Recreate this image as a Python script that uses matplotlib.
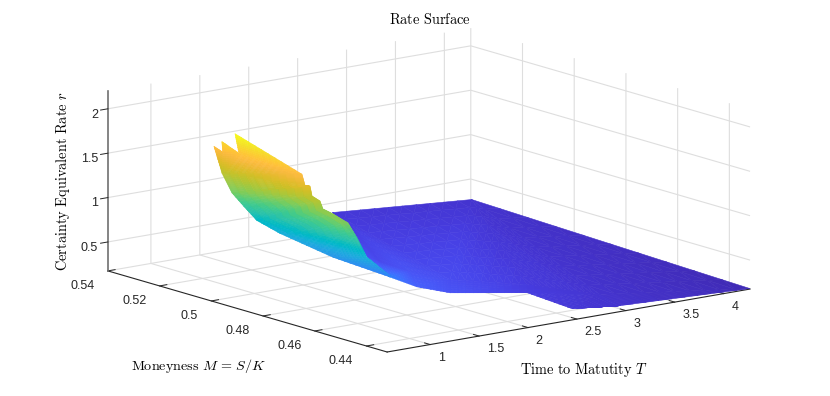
import numpy as np
import matplotlib
matplotlib.use("Agg")
import matplotlib.pyplot as plt
from matplotlib.colors import LinearSegmentedColormap

plt.rcParams['mathtext.fontset'] = 'cm'
plt.rcParams['font.family'] = ['Liberation Sans', 'DejaVu Sans']

parula_rgb = [
 (.2422,.1504,.6603),(.2504,.1650,.7076),(.2578,.1818,.7511),(.2647,.1978,.7952),(.2706,.2147,.8364),
 (.2751,.2342,.8710),(.2783,.2559,.8991),(.2803,.2782,.9221),(.2813,.3006,.9414),(.2810,.3228,.9579),
 (.2795,.3447,.9717),(.2760,.3667,.9829),(.2699,.3892,.9906),(.2602,.4123,.9952),(.2440,.4358,.9988),
 (.2206,.4603,.9973),(.1963,.4847,.9892),(.1834,.5074,.9798),(.1786,.5289,.9682),(.1764,.5499,.9520),
 (.1687,.5703,.9359),(.1540,.5902,.9218),(.1460,.6091,.9079),(.1380,.6276,.8973),(.1248,.6459,.8883),
 (.1113,.6635,.8763),(.0952,.6798,.8598),(.0689,.6948,.8394),(.0297,.7082,.8163),(.0036,.7203,.7917),
 (.0067,.7312,.7660),(.0433,.7411,.7394),(.0964,.7500,.7120),(.1408,.7584,.6842),(.1717,.7670,.6554),
 (.1938,.7758,.6251),(.2161,.7843,.5923),(.2470,.7918,.5567),(.2906,.7973,.5188),(.3406,.8008,.4789),
 (.3909,.8029,.4354),(.4456,.8024,.3909),(.5044,.7993,.3480),(.5616,.7942,.3045),(.6174,.7876,.2612),
 (.6720,.7793,.2227),(.7242,.7698,.1910),(.7738,.7598,.1646),(.8203,.7498,.1535),(.8634,.7406,.1596),
 (.9035,.7330,.1774),(.9393,.7288,.2100),(.9728,.7298,.2394),(.9956,.7434,.2371),(.9970,.7659,.2199),
 (.9952,.7893,.2028),(.9892,.8136,.1885),(.9786,.8386,.1766),(.9676,.8639,.1643),(.9610,.8890,.1537),
 (.9597,.9135,.1423),(.9628,.9373,.1265),(.9691,.9606,.1064),(.9769,.9839,.0805)]
parula = LinearSegmentedColormap.from_list('parula', parula_rgb)

# spike tips at the short-maturity end
tip_T = [1.176, 1.161, 1.157, 1.162, 1.119]
tip_M = [.5223, .5183, .5185, .5121, .5120]
tip_R = [1.61, 1.58, 1.70, 1.62, 1.85]
# near edge of the steep sheet
near_T = [1.029, .930, 1.000, 1.068, 1.087, 1.175, 1.300]
near_M = [.5136, .5060, .5036, .5016, .4934, .4762, .4589]
near_R = [1.41, 1.27, 1.11, .97, .89, .75, .65]
# jagged far edge of the steep sheet
far_T = [1.162, 1.097, 1.107, 1.059, 1.039, 1.001, .975, .932, .976, 1.076, 1.262]
far_M = [.4877, .4841, .4825, .4799, .4761, .4735, .4686, .4612, .4594, .4593, .4574]
far_R = [1.59, 1.51, 1.51, 1.43, 1.41, 1.35, 1.34, 1.31, 1.15, .91, .68]
# flat part: back edge, starting on the fold
back_T = [2.838, 2.980, 4.195, 4.131]
back_M = [.5334, .5446, .5368, .4268]
back_R = [.35, .33, .31, .25]
# flat part: interior line
mid_T = [2.010, 2.042, 1.914, 2.054, 2.595, 2.921, 2.806]
mid_M = [.4946, .4908, .4744, .4642, .4549, .4390, .4269]
mid_R = [.44, .41, .46, .43, .35, .31, .31]
# flat part: front edge
front_T = [2.010, 1.300, 1.510, 1.708, 2.399, 2.393, 2.806]
front_M = [.4946, .4589, .4564, .4511, .4474, .4298, .4269]
front_R = [.44, .65, .52, .46, .36, .33, .31]

T_ticks = [1, 1.5, 2, 2.5, 3, 3.5, 4]
T_labels = ['1', '1.5', '2', '2.5', '3', '3.5', '4']
M_ticks = [.44, .46, .48, .5, .52, .54]
M_labels = ['0.44', '0.46', '0.48', '0.5', '0.52', '0.54']
R_ticks = [.5, 1, 1.5, 2]
R_labels = ['0.5', '1', '1.5', '2']


def zipper(a, b):
    """Connectivity between two index chains."""
    tris, i, j = [], 0, 0
    while i < len(a) - 1 or j < len(b) - 1:
        fa = (i + 1) / (len(a) - 1)
        fb = (j + 1) / (len(b) - 1)
        if j == len(b) - 1 or (i < len(a) - 1 and fa <= fb):
            tris.append((a[i], b[j], a[i + 1])); i += 1
        else:
            tris.append((a[i], b[j], b[j + 1])); j += 1
    return tris


def draw_sheet(ax, T, M, R, tris, n):
    """Gouraud-style shading: split each triangle into a fine lattice."""
    P = np.column_stack([T, M, R])
    pts, out = [], []
    for a, b, c in tris:
        index = {}
        for i in range(n + 1):
            for j in range(n + 1 - i):
                k = n - i - j
                index[i, j] = len(pts)
                pts.append((i * P[a] + j * P[b] + k * P[c]) / n)
        for i in range(n):
            for j in range(n - i):
                out.append((index[i, j], index[i + 1, j], index[i, j + 1]))
                if i + j < n - 1:
                    out.append((index[i + 1, j], index[i + 1, j + 1], index[i, j + 1]))
    pts = np.array(pts)
    surf = ax.plot_trisurf(pts[:, 0], pts[:, 1], pts[:, 2], triangles=np.array(out), cmap=parula,
                           vmin=.22, vmax=1.85, linewidth=0, antialiased=True, shade=False)
    surf.set_edgecolor('face')
    surf.set_linewidth(.4)
    return surf


fig = plt.figure(figsize=(8.30, 3.96), dpi=100)
S = 700
ax = fig.add_axes([69.5 / 830, -153.5 / 396, S / 830, S / 396], projection='3d', proj_type='ortho')
ax.patch.set_visible(False)
ax.set_box_aspect((459, 457, 184.7), zoom=653.4 / S)
ax.view_init(elev=12.97, azim=-127.7)

# steep sheet
nt = len(tip_T); nn = len(near_T); nf = len(far_T)
idx_near = list(range(nt, nt + nn))
idx_far = list(range(nt + nn, nt + nn + nf))
L1, R1 = idx_near[0], idx_far[0]
steep_tris = [(0, 1, L1), (1, 2, 3), (1, 3, L1), (3, 4, R1), (3, R1, L1)] + zipper(idx_near, idx_far)
draw_sheet(ax, tip_T + near_T + far_T, tip_M + near_M + far_M, tip_R + near_R + far_R, steep_tris, 10)

# flat sheet
nb = len(back_T); nm = len(mid_T); nfr = len(front_T)
idx_back = list(range(nb))
idx_mid = list(range(nb, nb + nm))
idx_front = list(range(nb + nm, nb + nm + nfr))
flat_tris = zipper(idx_back, idx_mid) + zipper(idx_mid, idx_front)
draw_sheet(ax, back_T + mid_T + front_T, back_M + mid_M + front_M, back_R + mid_R + front_R, flat_tris, 10)

ax.set_xlim(.56, 4.27, view_margin=0)
ax.set_ylim(.432, .54, view_margin=0)
ax.set_zlim(.174, 2.2, view_margin=0)
ax.set_xticks(T_ticks, T_labels, ha='left')
ax.set_yticks(M_ticks, M_labels, ha='right')
ax.set_zticks(R_ticks, R_labels, ha='right')
ax.tick_params(axis='x', labelsize=9, pad=-.7, colors='#262626')
ax.tick_params(axis='y', labelsize=9, pad=1.5, colors='#262626')
ax.tick_params(axis='z', labelsize=9, pad=-4, colors='#262626')

for axis in (ax.xaxis, ax.yaxis, ax.zaxis):
    axis.set_pane_color((1, 1, 1, 0))
    axis.pane.set_edgecolor((1, 1, 1, 0))
    axis._axinfo['grid'].update(color='#dedede', linewidth=.8)
    axis._axinfo['tick'].update(inward_factor=0, outward_factor=.25, linewidth={True: .7, False: .7})
    axis.line.set_color('#262626')
    axis.line.set_linewidth(.8)
ax.zaxis._axinfo['tick'].update(inward_factor=.25, outward_factor=0)
ax.zaxis.line.set_color('#707070')
ax.zaxis.line.set_linewidth(1.2)

fig.text(429.5 / 830, 1 - 19 / 396, r'$\mathrm{Rate\ Surface}$', ha='center', va='center', fontsize=10.4)
fig.text(198.5 / 830, 1 - 366 / 396, r'$\mathrm{Moneyness}\ M\,=\,S/K$', ha='center', va='center', fontsize=10.2)
fig.text(584 / 830, 1 - 370 / 396, r'$\mathrm{Time\ to\ Matutity}\ T$', ha='center', va='center', fontsize=10.4)
fig.text(63 / 830, 1 - 181 / 396, r'$\mathrm{Certainty\ Equivalent\ Rate}\ r$', ha='center', va='center',
         rotation=90, fontsize=10.4)

fig.savefig('out.png', dpi=100, facecolor='white')
